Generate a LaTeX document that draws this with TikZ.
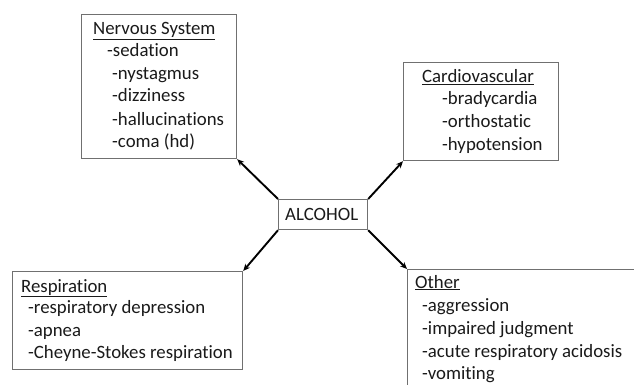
\documentclass[tikz,border=0pt]{standalone}
\usepackage{fontspec}
\setmainfont[Ligatures=NoCommon]{Carlito}
\usetikzlibrary{arrows.meta}
\definecolor{txt}{HTML}{1A1A1A}
\definecolor{frame}{HTML}{707070}
\tikzset{
  box/.style={draw=frame, line width=1.2pt, rectangle, inner sep=0pt, anchor=north west},
  lbl/.style={anchor=base west, inner sep=0pt, text=txt, font=\fontsize{18.8}{22}\selectfont},
  conn/.style={line width=1.9pt, -{Stealth[length=7pt,width=6pt]}}
}
\begin{document}
\begin{tikzpicture}[x=1pt,y=-1pt]
\useasboundingbox (0,0) rectangle (634,385);
\clip (0,0) rectangle (634,385);
\fill[white] (0,0) rectangle (634,385);
% boxes
\node[box, minimum width=155pt, minimum height=144pt] (nerv) at (81,14) {};
\node[box, minimum width=155pt, minimum height=98pt] (card) at (403,62) {};
\node[box, minimum width=89pt, minimum height=30pt] (alc) at (278,199) {};
\node[box, minimum width=230pt, minimum height=98pt] (resp) at (12,271) {};
\node[box, minimum width=240pt, minimum height=130pt] (oth) at (407,269) {};
% texts
\node[lbl] (t1) at (93,35) {\underline{Nervous System}};
\node[lbl] (t2) at (107,57) {-sedation};
\node[lbl] (t3) at (112,80) {-nystagmus};
\node[lbl] (t4) at (112,102) {-dizziness};
\node[lbl] (t5) at (112,125) {-hallucinations};
\node[lbl] (t6) at (112,147) {-coma (hd)};
\node[lbl] (c1) at (422,83) {\underline{Cardiovascular}};
\node[lbl] (c2) at (442,105) {-bradycardia};
\node[lbl] (c3) at (442,128) {-orthostatic};
\node[lbl] (c4) at (442,150) {-hypotension};
\node[lbl] (a1) at (285,220) {ALCOHOL};
\node[lbl] (r1) at (21,292) {\underline{Respiration}};
\node[lbl] (r2) at (28,313) {-respiratory depression};
\node[lbl] (r3) at (28,336) {-apnea};
\node[lbl] (r4) at (28,358) {-Cheyne-Stokes respiration};
\node[lbl] (o1) at (415,288) {\underline{Other}};
\node[lbl] (o2) at (422,311) {-aggression};
\node[lbl] (o3) at (422,334) {-impaired judgment};
\node[lbl] (o4) at (422,357) {-acute respiratory acidosis};
\node[lbl] (o5) at (422,379) {-vomiting};
% connectors
\draw[conn] (alc.north west) -- (nerv.south east);
\draw[conn] (alc.north east) -- (card.south west);
\draw[conn] (alc.south west) -- (resp.north east);
\draw[conn] (alc.south east) -- (oth.north west);
\end{tikzpicture}
\end{document}
